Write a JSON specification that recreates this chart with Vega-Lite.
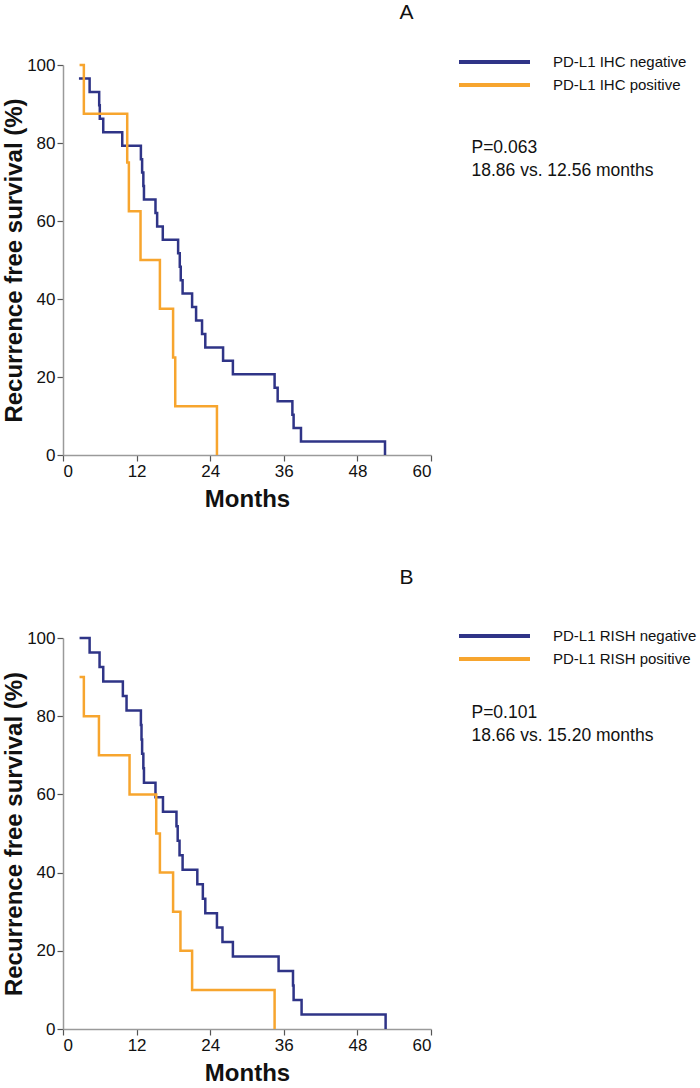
{
  "$schema": "https://vega.github.io/schema/vega-lite/v6.json",
  "background": "white",
  "padding": {"left": 2, "top": 2, "right": 0, "bottom": 0},
  "config": {
    "font": "Liberation Sans",
    "view": {"stroke": null},
    "axis": {
      "grid": false,
      "domainColor": "#9a9a9a",
      "domainWidth": 1.5,
      "tickColor": "#555555",
      "tickSize": 6,
      "tickWidth": 1.2,
      "labelFont": "Liberation Sans",
      "labelFontSize": 17,
      "labelColor": "#111111",
      "labelPadding": 2,
      "titleFont": "Liberation Sans",
      "titleFontSize": 24,
      "titleFontWeight": "bold",
      "titleColor": "#111111"
    },
    "text": {"font": "Liberation Sans", "color": "#111111"}
  },
  "datasets": {
    "a": [
      {"group": "PD-L1 IHC negative", "month": 2.6, "survival": 96.55},
      {"group": "PD-L1 IHC negative", "month": 4.34, "survival": 93.10},
      {"group": "PD-L1 IHC negative", "month": 5.9, "survival": 89.66},
      {"group": "PD-L1 IHC negative", "month": 6.0, "survival": 86.21},
      {"group": "PD-L1 IHC negative", "month": 6.56, "survival": 82.76},
      {"group": "PD-L1 IHC negative", "month": 9.66, "survival": 79.31},
      {"group": "PD-L1 IHC negative", "month": 12.7, "survival": 75.86},
      {"group": "PD-L1 IHC negative", "month": 12.9, "survival": 72.41},
      {"group": "PD-L1 IHC negative", "month": 13.1, "survival": 68.97},
      {"group": "PD-L1 IHC negative", "month": 13.2, "survival": 65.52},
      {"group": "PD-L1 IHC negative", "month": 15.08, "survival": 62.07},
      {"group": "PD-L1 IHC negative", "month": 15.35, "survival": 58.62},
      {"group": "PD-L1 IHC negative", "month": 16.27, "survival": 55.17},
      {"group": "PD-L1 IHC negative", "month": 18.77, "survival": 51.72},
      {"group": "PD-L1 IHC negative", "month": 19.04, "survival": 48.28},
      {"group": "PD-L1 IHC negative", "month": 19.2, "survival": 44.83},
      {"group": "PD-L1 IHC negative", "month": 19.5, "survival": 41.38},
      {"group": "PD-L1 IHC negative", "month": 21.05, "survival": 37.93},
      {"group": "PD-L1 IHC negative", "month": 21.7, "survival": 34.48},
      {"group": "PD-L1 IHC negative", "month": 22.67, "survival": 31.03},
      {"group": "PD-L1 IHC negative", "month": 23.2, "survival": 27.59},
      {"group": "PD-L1 IHC negative", "month": 26.1, "survival": 24.14},
      {"group": "PD-L1 IHC negative", "month": 27.7, "survival": 20.69},
      {"group": "PD-L1 IHC negative", "month": 34.5, "survival": 17.24},
      {"group": "PD-L1 IHC negative", "month": 35.0, "survival": 13.79},
      {"group": "PD-L1 IHC negative", "month": 37.4, "survival": 10.34},
      {"group": "PD-L1 IHC negative", "month": 37.6, "survival": 6.90},
      {"group": "PD-L1 IHC negative", "month": 38.8, "survival": 3.45},
      {"group": "PD-L1 IHC negative", "month": 52.5, "survival": 0},
      {"group": "PD-L1 IHC positive", "month": 2.7, "survival": 100},
      {"group": "PD-L1 IHC positive", "month": 3.4, "survival": 87.5},
      {"group": "PD-L1 IHC positive", "month": 10.47, "survival": 75},
      {"group": "PD-L1 IHC positive", "month": 10.74, "survival": 62.5},
      {"group": "PD-L1 IHC positive", "month": 12.64, "survival": 50},
      {"group": "PD-L1 IHC positive", "month": 15.8, "survival": 37.5},
      {"group": "PD-L1 IHC positive", "month": 17.95, "survival": 25},
      {"group": "PD-L1 IHC positive", "month": 18.3, "survival": 12.5},
      {"group": "PD-L1 IHC positive", "month": 25.1, "survival": 0}
    ],
    "b": [
      {"group": "PD-L1 RISH negative", "month": 2.7, "survival": 100},
      {"group": "PD-L1 RISH negative", "month": 4.34, "survival": 96.30},
      {"group": "PD-L1 RISH negative", "month": 5.96, "survival": 92.59},
      {"group": "PD-L1 RISH negative", "month": 6.56, "survival": 88.89},
      {"group": "PD-L1 RISH negative", "month": 9.76, "survival": 85.19},
      {"group": "PD-L1 RISH negative", "month": 10.36, "survival": 81.48},
      {"group": "PD-L1 RISH negative", "month": 12.7, "survival": 77.78},
      {"group": "PD-L1 RISH negative", "month": 12.8, "survival": 74.07},
      {"group": "PD-L1 RISH negative", "month": 12.9, "survival": 70.37},
      {"group": "PD-L1 RISH negative", "month": 13.1, "survival": 66.67},
      {"group": "PD-L1 RISH negative", "month": 13.2, "survival": 62.96},
      {"group": "PD-L1 RISH negative", "month": 15.08, "survival": 59.26},
      {"group": "PD-L1 RISH negative", "month": 16.3, "survival": 55.56},
      {"group": "PD-L1 RISH negative", "month": 18.5, "survival": 51.85},
      {"group": "PD-L1 RISH negative", "month": 18.7, "survival": 48.15},
      {"group": "PD-L1 RISH negative", "month": 19.0, "survival": 44.44},
      {"group": "PD-L1 RISH negative", "month": 19.5, "survival": 40.74},
      {"group": "PD-L1 RISH negative", "month": 21.9, "survival": 37.04},
      {"group": "PD-L1 RISH negative", "month": 22.8, "survival": 33.33},
      {"group": "PD-L1 RISH negative", "month": 23.2, "survival": 29.63},
      {"group": "PD-L1 RISH negative", "month": 25.1, "survival": 25.93},
      {"group": "PD-L1 RISH negative", "month": 26.0, "survival": 22.22},
      {"group": "PD-L1 RISH negative", "month": 27.7, "survival": 18.52},
      {"group": "PD-L1 RISH negative", "month": 35.15, "survival": 14.81},
      {"group": "PD-L1 RISH negative", "month": 37.5, "survival": 11.11},
      {"group": "PD-L1 RISH negative", "month": 37.6, "survival": 7.41},
      {"group": "PD-L1 RISH negative", "month": 38.9, "survival": 3.70},
      {"group": "PD-L1 RISH negative", "month": 52.6, "survival": 0},
      {"group": "PD-L1 RISH positive", "month": 2.7, "survival": 90},
      {"group": "PD-L1 RISH positive", "month": 3.4, "survival": 80},
      {"group": "PD-L1 RISH positive", "month": 5.86, "survival": 70},
      {"group": "PD-L1 RISH positive", "month": 10.85, "survival": 60},
      {"group": "PD-L1 RISH positive", "month": 15.2, "survival": 50},
      {"group": "PD-L1 RISH positive", "month": 15.8, "survival": 40},
      {"group": "PD-L1 RISH positive", "month": 17.95, "survival": 30},
      {"group": "PD-L1 RISH positive", "month": 19.15, "survival": 20},
      {"group": "PD-L1 RISH positive", "month": 21.05, "survival": 10},
      {"group": "PD-L1 RISH positive", "month": 34.5, "survival": 0}
    ]
  },
  "resolve": {"scale": {"color": "independent"}, "legend": {"color": "independent"}},
  "spacing": 55,
  "vconcat": [
    {
      "width": 368,
      "height": 390,
      "layer": [
        {
          "data": {"name": "a"},
          "mark": {"type": "line", "interpolate": "step-after", "strokeWidth": 2.5},
          "encoding": {
            "x": {"field": "month", "type": "quantitative", "scale": {"domain": [0, 60], "nice": false}, "axis": {"values": [0, 12, 24, 36, 48, 60], "title": "Months", "titlePadding": 8}},
            "y": {"field": "survival", "type": "quantitative", "scale": {"domain": [0, 100], "nice": false}, "axis": {"values": [0, 20, 40, 60, 80, 100], "title": "Recurrence free survival (%)", "titlePadding": 0}},
            "color": {
              "field": "group", "type": "nominal",
              "scale": {"domain": ["PD-L1 IHC negative", "PD-L1 IHC positive"], "range": ["#2F3487", "#F7A52E"]},
              "legend": {"orient": "none", "legendX": 419.5, "legendY": -15, "title": null, "symbolType": "M-3.55,0H3.55", "symbolSize": 400, "symbolStrokeWidth": 4, "labelFontSize": 15, "labelFont": "Liberation Sans", "labelColor": "#111111", "labelOffset": 46.5, "rowPadding": 3, "padding": 0,
                "encode": {"symbols": {"update": {"stroke": {"signal": "indexof(datum.value, 'positive') >= 0 ? '#FDB913' : '#2F3487'"}}}}}
            }
          }
        },
        {
          "data": {"values": [{"t": "A"}]},
          "mark": {"type": "text", "fontSize": 21, "align": "center", "baseline": "middle"},
          "encoding": {"x": {"datum": 56}, "y": {"datum": 113.3}, "text": {"field": "t"}}
        },
        {
          "data": {"values": [{"t": "P=0.063\n18.86 vs. 12.56 months"}]},
          "mark": {"type": "text", "fontSize": 17.5, "align": "left", "baseline": "top", "lineBreak": "\n", "lineHeight": 23},
          "encoding": {"x": {"datum": 66.6}, "y": {"datum": 80.9}, "text": {"field": "t"}}
        }
      ]
    },
    {
      "width": 368,
      "height": 391,
      "layer": [
        {
          "data": {"name": "b"},
          "mark": {"type": "line", "interpolate": "step-after", "strokeWidth": 2.5},
          "encoding": {
            "x": {"field": "month", "type": "quantitative", "scale": {"domain": [0, 60], "nice": false}, "axis": {"values": [0, 12, 24, 36, 48, 60], "title": "Months", "titlePadding": 8}},
            "y": {"field": "survival", "type": "quantitative", "scale": {"domain": [0, 100], "nice": false}, "axis": {"values": [0, 20, 40, 60, 80, 100], "title": "Recurrence free survival (%)", "titlePadding": 0}},
            "color": {
              "field": "group", "type": "nominal",
              "scale": {"domain": ["PD-L1 RISH negative", "PD-L1 RISH positive"], "range": ["#2F3487", "#F7A52E"]},
              "legend": {"orient": "none", "legendX": 419.5, "legendY": -14, "title": null, "symbolType": "M-3.55,0H3.55", "symbolSize": 400, "symbolStrokeWidth": 4, "labelFontSize": 15, "labelFont": "Liberation Sans", "labelColor": "#111111", "labelOffset": 46.5, "rowPadding": 3, "padding": 0,
                "encode": {"symbols": {"update": {"stroke": {"signal": "indexof(datum.value, 'positive') >= 0 ? '#FDB913' : '#2F3487'"}}}}}
            }
          }
        },
        {
          "data": {"values": [{"t": "B"}]},
          "mark": {"type": "text", "fontSize": 21, "align": "center", "baseline": "middle"},
          "encoding": {"x": {"datum": 56}, "y": {"datum": 115.4}, "text": {"field": "t"}}
        },
        {
          "data": {"values": [{"t": "P=0.101\n18.66 vs. 15.20 months"}]},
          "mark": {"type": "text", "fontSize": 17.5, "align": "left", "baseline": "top", "lineBreak": "\n", "lineHeight": 23},
          "encoding": {"x": {"datum": 66.6}, "y": {"datum": 83.2}, "text": {"field": "t"}}
        }
      ]
    }
  ]
}
